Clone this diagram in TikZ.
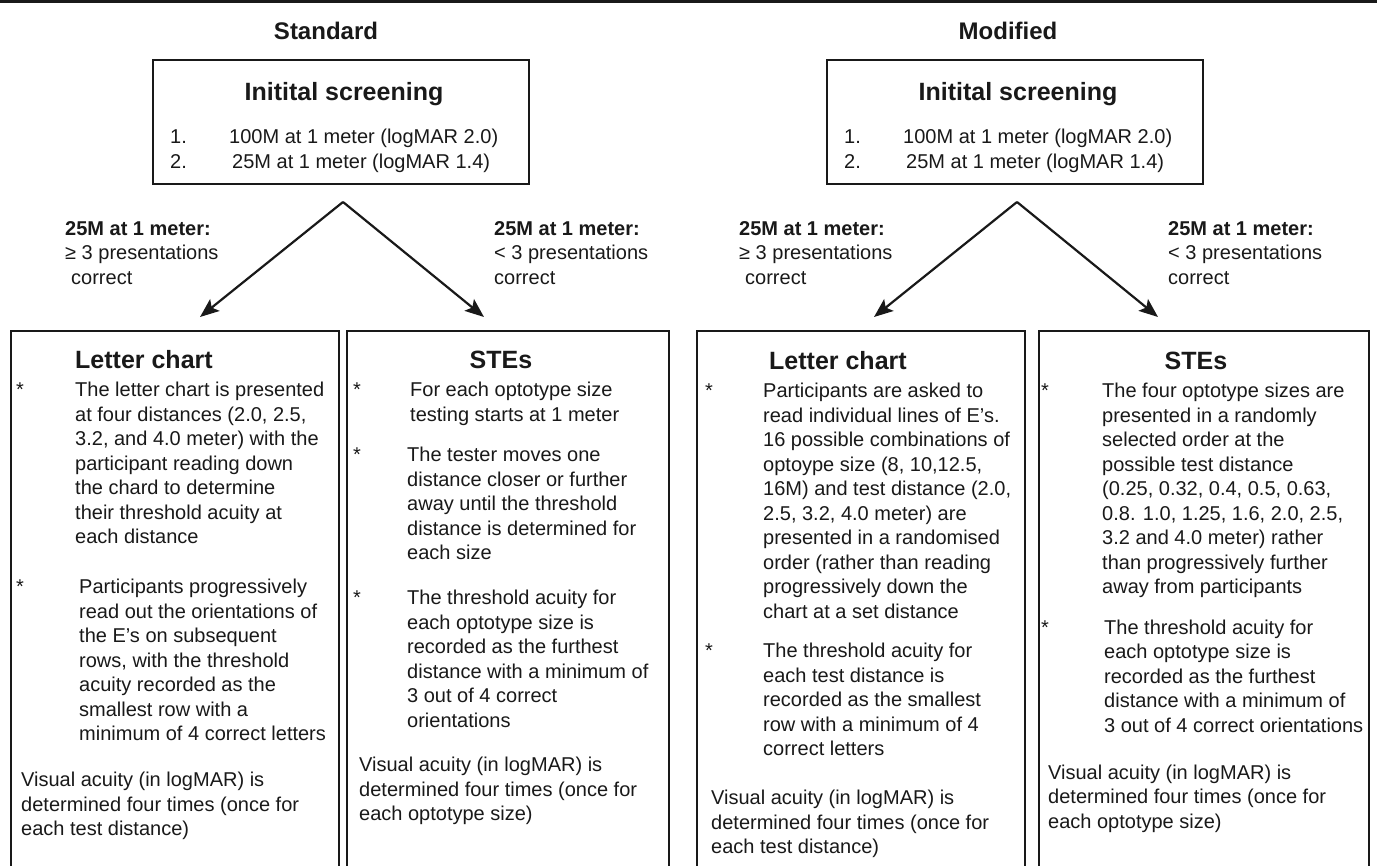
\documentclass[tikz,border=0pt]{standalone}
\usepackage{fontspec}
\setmainfont{Liberation Sans}
\usetikzlibrary{arrows.meta}
\newcommand\bodyfs{\fontsize{20}{24.5}\selectfont}
\newcommand\headfs{\bfseries\fontsize{25}{30}\selectfont}
\newcommand\ttlfs{\bfseries\fontsize{24}{28}\selectfont}
\definecolor{ink}{RGB}{25,25,25}
\begin{document}
\begin{tikzpicture}[x=1pt,y=-1pt,
  boxln/.style={draw=ink, line width=2.4pt},
  txt/.style={anchor=north west, inner sep=0pt, align=left, font=\bodyfs, text=ink},
  ln/.style={anchor=base west, inner sep=0pt, font=\bodyfs, text=ink},
  astk/.style={anchor=base west, inner sep=0pt, font=\bodyfs, text=ink},
  hd/.style={anchor=base, inner sep=0pt, font=\headfs, text=ink},
  ttl/.style={anchor=base, inner sep=0pt, font=\ttlfs, text=ink},
  arr/.style={draw=ink, line width=2.2pt, -{Stealth[length=19pt,width=15pt,inset=4pt]}},
  scr/.style={draw=ink, line width=2.4pt, minimum width=376pt, minimum height=124pt, inner sep=0pt}
]
\useasboundingbox (0,0) rectangle (1377,866);
\fill[white] (0,0) rectangle (1377,866);
% top rule
\draw[ink, line width=3.5pt] (0,1.5) -- (1377,1.5);

% ================= Standard =================
\node[ttl] (stdT) at (326,40) {Standard};
\node[scr] (scrL) at (341,122) {};
\node[hd] (scrLt) at (344,101) {Initital screening};
\node[ln] (scrL1n) at (170,143.5) {1.};
\node[ln] (scrL1) at (229,143.5) {100M at 1 meter (logMAR 2.0)};
\node[ln] (scrL2n) at (170,168.5) {2.};
\node[ln] (scrL2) at (232,168.5) {25M at 1 meter (logMAR 1.4)};

\node[txt] (labLL) at (65,217.85) {\strut\textbf{25M at 1 meter:}\\≥ 3 presentations\\\hspace*{6pt}correct};
\node[txt] (labLR) at (494,217.85) {\strut\textbf{25M at 1 meter:}\\< 3 presentations\\correct};

\coordinate (apL) at (343,202);
\coordinate (tLL) at (200,317);
\coordinate (tLR) at (484,317);
\draw[arr] (apL) -- (tLL);
\draw[arr] (apL) -- (tLR);

% ================= Modified =================
\node[ttl] (modT) at (1008,40) {Modified};
\node[scr] (scrR) at (1015,122) {};
\node[hd] (scrRt) at (1018,101) {Initital screening};
\node[ln] (scrR1n) at (844,143.5) {1.};
\node[ln] (scrR1) at (903,143.5) {100M at 1 meter (logMAR 2.0)};
\node[ln] (scrR2n) at (844,168.5) {2.};
\node[ln] (scrR2) at (906,168.5) {25M at 1 meter (logMAR 1.4)};

\node[txt] (labRL) at (739,217.85) {\strut\textbf{25M at 1 meter:}\\≥ 3 presentations\\\hspace*{6pt}correct};
\node[txt] (labRR) at (1168,217.85) {\strut\textbf{25M at 1 meter:}\\< 3 presentations\\correct};

\coordinate (apR) at (1017,202);
\coordinate (tRL) at (874,317);
\coordinate (tRR) at (1158,317);
\draw[arr] (apR) -- (tRL);
\draw[arr] (apR) -- (tRR);

% ================= bottom boxes =================
\draw[boxln] (11,880) |- (339,331) -- (339,880);
\draw[boxln] (347,880) |- (669,331) -- (669,880);
\draw[boxln] (697,880) |- (1025,331) -- (1025,880);
\draw[boxln] (1039,880) |- (1369,331) -- (1369,880);

% ---- Box 1: Letter chart (standard)
\node[hd, anchor=base west] (b1h) at (75,369) {Letter chart};
\node[astk] (b1s1) at (16,396.5) {*};
\node[txt] (b1p1) at (75,379.35) {\strut The letter chart is presented\\at four distances (2.0, 2.5,\\3.2, and 4.0 meter) with the\\participant reading down\\the chard to determine\\their threshold acuity at\\each distance};
\node[astk] (b1s2) at (16,593.5) {*};
\node[txt] (b1p2) at (79,576.35) {\strut Participants progressively\\read out the orientations of\\the E’s on subsequent\\rows, with the threshold\\acuity recorded as the\\smallest row with a\\minimum of 4 correct letters};
\node[txt] (b1v) at (21,769.35) {\strut Visual acuity (in logMAR) is\\determined four times (once for\\each test distance)};

% ---- Box 2: STEs (standard)
\node[hd] (b2h) at (501,369) {STEs};
\node[astk] (b2s1) at (353,396.5) {*};
\node[txt] (b2p1) at (410,379.35) {\strut For each optotype size\\testing starts at 1 meter};
\node[astk] (b2s2) at (353,461.5) {*};
\node[txt] (b2p2) at (407,444.35) {\strut The tester moves one\\distance closer or further\\away until the threshold\\distance is determined for\\each size};
\node[astk] (b2s3) at (353,604.5) {*};
\node[txt] (b2p3) at (407,587.35) {\strut The threshold acuity for\\each optotype size is\\recorded as the furthest\\distance with a minimum of\\3 out of 4 correct\\orientations};
\node[txt] (b2v) at (359,754.35) {\strut Visual acuity (in logMAR) is\\determined four times (once for\\each optotype size)};

% ---- Box 3: Letter chart (modified)
\node[hd, anchor=base west] (b3h) at (769,369.5) {Letter chart};
\node[astk] (b3s1) at (705,397.5) {*};
\node[txt] (b3p1) at (763,380.35) {\strut Participants are asked to\\read individual lines of E’s.\\16 possible combinations of\\optoype size (8, 10,12.5,\\16M) and test distance (2.0,\\2.5, 3.2, 4.0 meter) are\\presented in a randomised\\order (rather than reading\\progressively down the\\chart at a set distance};
\node[astk] (b3s2) at (705,657.5) {*};
\node[txt] (b3p2) at (763,640.35) {\strut The threshold acuity for\\each test distance is\\recorded as the smallest\\row with a minimum of 4\\correct letters};
\node[txt] (b3v) at (711,787.35) {\strut Visual acuity (in logMAR) is\\determined four times (once for\\each test distance)};

% ---- Box 4: STEs (modified)
\node[hd] (b4h) at (1196,369.5) {STEs};
\node[astk] (b4s1) at (1041,397.5) {*};
\node[txt] (b4p1) at (1102,380.35) {\strut The four optotype sizes are\\presented in a randomly\\selected order at the\\possible test distance\\(0.25, 0.32, 0.4, 0.5, 0.63,\\0.8. 1.0, 1.25, 1.6, 2.0, 2.5,\\3.2 and 4.0 meter) rather\\than progressively further\\away from participants};
\node[astk] (b4s2) at (1041,634) {*};
\node[txt] (b4p2) at (1104,616.85) {\strut The threshold acuity for\\each optotype size is\\recorded as the furthest\\distance with a minimum of\\3 out of 4 correct orientations};
\node[txt] (b4v) at (1048,761.85) {\strut Visual acuity (in logMAR) is\\determined four times (once for\\each optotype size)};
\end{tikzpicture}
\end{document}
